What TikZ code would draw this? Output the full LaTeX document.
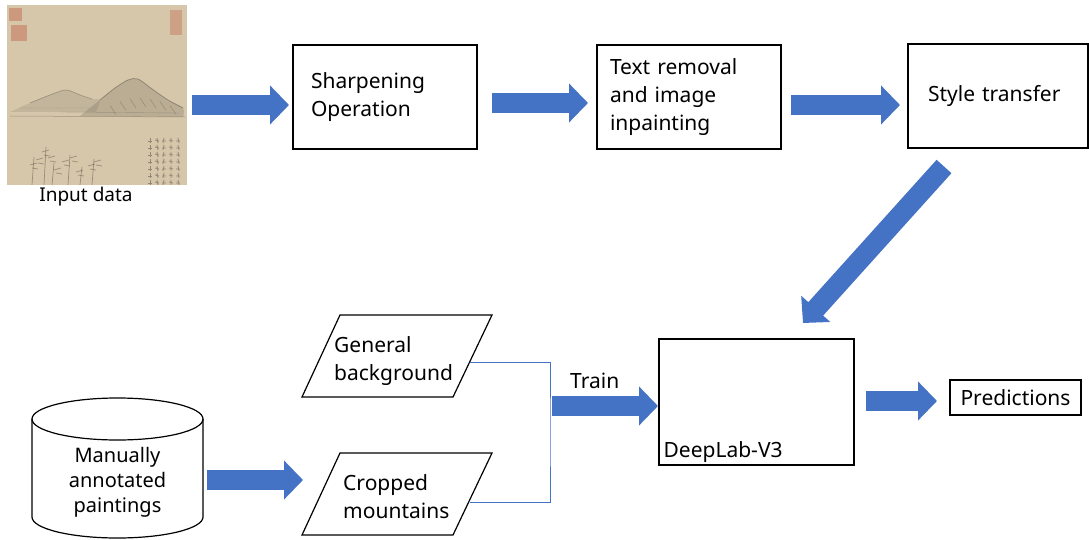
\documentclass[tikz,border=0pt]{standalone}
\usepackage{fontspec}
\setmainfont{Noto Sans}
\usetikzlibrary{arrows.meta,calc}
\definecolor{arrowblue}{RGB}{68,114,196}
\definecolor{paper}{RGB}{214,199,170}
\definecolor{ink}{RGB}{90,84,74}
\definecolor{seal}{RGB}{196,106,84}
\begin{document}
\begin{tikzpicture}[x=1pt,y=-1pt,
  blockarrow/.style={line width=20pt, draw=arrowblue, -{Triangle[length=19pt,width=38pt]}},
  box/.style={draw, line width=1.2pt, inner xsep=18pt, align=left, font=\fontsize{21}{28}\selectfont},
  slanted/.style={draw, line width=1.2pt, line join=miter},
  label/.style={font=\fontsize{21}{28}\selectfont, align=left, inner sep=0pt},
  link/.style={draw=arrowblue, line width=1pt}]
\useasboundingbox (0,0) rectangle (1089,540);

% ---- input painting ----
\node[fill=paper, minimum width=180pt, minimum height=180pt, inner sep=0pt] (paint) at (97,95) {};
\fill[seal, opacity=.5] (9,8) rectangle (22,21);
\fill[seal, opacity=.5] (11,25) rectangle (27,41);
\fill[seal, opacity=.4] (170,10) rectangle (182,35);
\fill[ink, opacity=.15] plot[smooth] coordinates {(10,112) (30,103) (50,95) (66,90) (80,95) (92,99) (100,100) (96,112)} -- cycle;
\fill[ink, opacity=.22] plot[smooth] coordinates {(80,116) (100,100) (115,88) (128,80) (138,79) (152,89) (168,100) (183,108) (183,117)} -- cycle;
\draw[ink, opacity=.45, line width=.6pt] plot[smooth] coordinates {(30,103) (50,95) (66,90) (80,95) (92,99)};
\draw[ink, opacity=.55, line width=.7pt] plot[smooth] coordinates {(100,100) (115,88) (128,80) (138,79) (152,89) (168,100) (183,108)};
\foreach \x in {110,120,130,140,150,160,170}
  \draw[ink, opacity=.4, line width=.5pt] (\x,{98+(\x-140)*(\x-140)/120}) -- ++(6,9);
\draw[ink, opacity=.45, line width=.5pt] (10,116) -- (185,117);
\draw[ink, opacity=.3, line width=.4pt] (20,108) -- (90,108) (60,112) -- (180,113);
% calligraphy columns
\foreach \x [count=\i] in {150,157,164,171,178}
  \foreach \y in {140,147,...,182}
    \draw[ink, opacity=.55, line width=.8pt] ({\x-2},{\y+mod(\i,2)}) -- ({\x+2},{\y+1}) (\x,{\y-2}) -- ({\x+mod(\i,3)-1},{\y+3});
% plants
\foreach \x/\h in {32/28,44/38,52/22,68/30,80/18,92/26}
  \draw[ink, opacity=.5, line width=.7pt] (\x,185) -- ++(2,-\h);
\foreach \x/\y in {30/165,36/160,42/152,48/158,54/170,62/162,70/158,76/172,88/166,94/162}
  \draw[ink, opacity=.45, line width=.8pt] (\x,\y) -- ++(7,-2) ({\x+2},{\y+3}) -- ++(6,1);
\node[font=\fontsize{19}{22}\selectfont, inner sep=0pt] (inlabel) at (86,197) {Input data};

% ---- upper row of boxes ----
\node[box, minimum width=184pt, minimum height=104pt, text width=148pt] (sharp) at (385,97) {Sharpening\\Operation};
\node[box, minimum width=184pt, minimum height=104pt, inner xsep=13pt, text width=158pt] (inpaint) at (689,97) {Text removal\\and image\\inpainting};
\node[box, minimum width=180pt, minimum height=104pt, inner xsep=20pt, text width=140pt] (style) at (998,96) {Style transfer};

% ---- model and output ----
\node[draw, line width=1.2pt, minimum width=195pt, minimum height=126pt] (deeplab) at (756.5,402) {};
\node[label, anchor=west] (dltext) at ($(deeplab.south west)+(5,-14)$) {DeepLab-V3};
\node[box, inner xsep=7pt, minimum width=131pt, minimum height=35pt] (pred) at (1015.5,397.5) {Predictions};

% ---- annotated data store ----
\draw[line width=1.2pt] (117.5,419) ellipse [x radius=85.5pt, y radius=21pt];
\draw[line width=1.2pt] (32,419) -- (32,517) arc [start angle=180, end angle=360, x radius=85.5pt, y radius=21pt] -- (203,419);
\node[font=\fontsize{20}{25}\selectfont, align=center, inner sep=0pt] (store) at (117.5,482) {Manually\\annotated\\paintings};

% ---- training inputs ----
\draw[slanted] (340,315) -- (492,315) -- (453,397) -- (302,397) -- cycle;
\node[label, anchor=west] (general) at (334,361) {General\\background};
\draw[slanted] (340,453) -- (492,453) -- (453,535) -- (302,535) -- cycle;
\node[label, anchor=west] (cropped) at (343,497) {Cropped\\mountains};
\coordinate (gbout) at (470,362);
\coordinate (cmout) at (470,502);
\coordinate (merge) at (550,432);
\draw[link] (gbout) -| (merge) |- (cmout);
\node[label, anchor=west] (train) at (570,381) {Train};

% ---- block arrows ----
\coordinate (a1s) at (192,105);   \coordinate (a1e) at (289,105);
\coordinate (a2s) at (492,103);   \coordinate (a2e) at (588,103);
\coordinate (a3s) at (791,105);   \coordinate (a3e) at (900,105);
\coordinate (a4s) at (944,166.5); \coordinate (a4e) at (803,323);
\coordinate (a5s) at (207,480);   \coordinate (a5e) at (303,480);
\coordinate (a6s) at (552,406);   \coordinate (a6e) at (658,406);
\coordinate (a7s) at (866,401);   \coordinate (a7e) at (937,401);
\draw[blockarrow] (a1s) -- (a1e);
\draw[blockarrow] (a2s) -- (a2e);
\draw[blockarrow] (a3s) -- (a3e);
\draw[blockarrow] (a4s) -- (a4e);
\draw[blockarrow] (a5s) -- (a5e);
\draw[blockarrow] (a6s) -- (a6e);
\draw[blockarrow] (a7s) -- (a7e);
\end{tikzpicture}
\end{document}
